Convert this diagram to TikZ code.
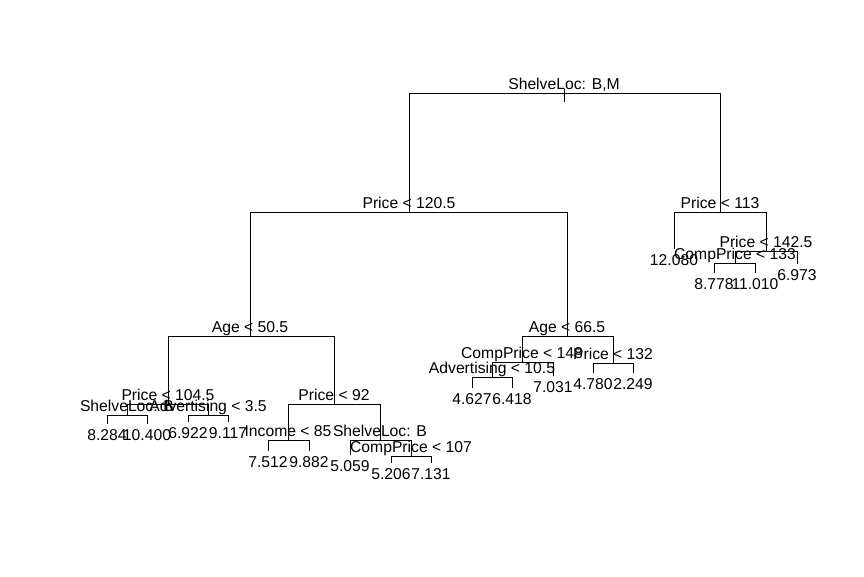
\documentclass[tikz,border=0pt]{standalone}
\usepackage{fontspec}
\setmainfont{Liberation Sans}
\tikzset {
	treefont/.style={font=\fontsize{15.7}{18}\selectfont},
	split/.style={treefont, anchor=base, yshift=3.5pt, inner sep=0pt},
	leaf/.style={treefont, anchor=base, yshift=-16.5pt, inner sep=0pt},
	branch/.style={draw, line width=0.8pt}
}
\begin{document}
\begin{tikzpicture}[x=1pt, y=-1pt]
	\useasboundingbox (0,0) rectangle (864,576);
	% splits
	\coordinate (n1) at (564,93);
	\coordinate (n2) at (409,212);
	\coordinate (n3) at (720,212);
	\coordinate (n4) at (250,336);
	\coordinate (n5) at (567,336);
	\coordinate (n6) at (766,251);
	\coordinate (n7) at (735,263);
	\coordinate (n8) at (168,404);
	\coordinate (n9) at (127,415);
	\coordinate (n10) at (208,415);
	\coordinate (n11) at (334,404);
	\coordinate (n12) at (288,440);
	\coordinate (n13) at (380,440);
	\coordinate (n14) at (411,456);
	\coordinate (n15) at (522,362);
	\coordinate (n16) at (492,377);
	\coordinate (n17) at (613,363);
	% leaves
	\coordinate (l1) at (674,249);
	\coordinate (l2) at (797,264);
	\coordinate (l3) at (714,273);
	\coordinate (l4) at (755,273);
	\coordinate (l5) at (107,424);
	\coordinate (l6) at (147,424);
	\coordinate (l7) at (188,422);
	\coordinate (l8) at (228,422);
	\coordinate (l9) at (268,451);
	\coordinate (l10) at (309,451);
	\coordinate (l11) at (350,455);
	\coordinate (l12) at (391,463);
	\coordinate (l13) at (431,463);
	\coordinate (l14) at (472,388);
	\coordinate (l15) at (512,388);
	\coordinate (l16) at (553,376);
	\coordinate (l17) at (593,373);
	\coordinate (l18) at (633,373);
	% root stub
	\coordinate (stubtop) at (564,89);
	\coordinate (stubend) at (564,102);
	\draw[branch] (stubtop) -- (stubend);
	% branches
	\foreach \p/\c in {n1/n2, n1/n3, n2/n4, n2/n5, n3/l1, n3/n6, n6/n7, n6/l2,
			n7/l3, n7/l4, n4/n8, n4/n11, n8/n9, n8/n10, n9/l5, n9/l6, n10/l7, n10/l8,
			n11/n12, n11/n13, n12/l9, n12/l10, n13/l11, n13/n14, n14/l12, n14/l13,
			n5/n15, n5/n17, n15/n16, n15/l16, n16/l14, n16/l15, n17/l17, n17/l18}
		\draw[branch] (\p) -| (\c);
	% split labels
	\foreach \c/\t in {n1/{ShelveLoc: B,M}, n2/{Price < 120.5}, n3/{Price < 113},
			n4/{Age < 50.5}, n5/{Age < 66.5}, n6/{Price < 142.5}, n7/{CompPrice < 133},
			n8/{Price < 104.5}, n9/{ShelveLoc: B}, n10/{Advertising < 3.5},
			n11/{Price < 92}, n12/{Income < 85}, n13/{ShelveLoc: B},
			n14/{CompPrice < 107}, n15/{CompPrice < 148}, n16/{Advertising < 10.5},
			n17/{Price < 132}}
		\node[split] (t\c) at (\c) {\t};
	% leaf labels
	\foreach \c/\t in {l1/12.080, l2/6.973, l3/8.778, l4/11.010, l5/8.284, l6/10.400,
			l7/6.922, l8/9.117, l9/7.512, l10/9.882, l11/5.059, l12/5.206, l13/7.131,
			l14/4.627, l15/6.418, l16/7.031, l17/4.780, l18/2.249}
		\node[leaf] (t\c) at (\c) {\t};
\end{tikzpicture}
\end{document}
